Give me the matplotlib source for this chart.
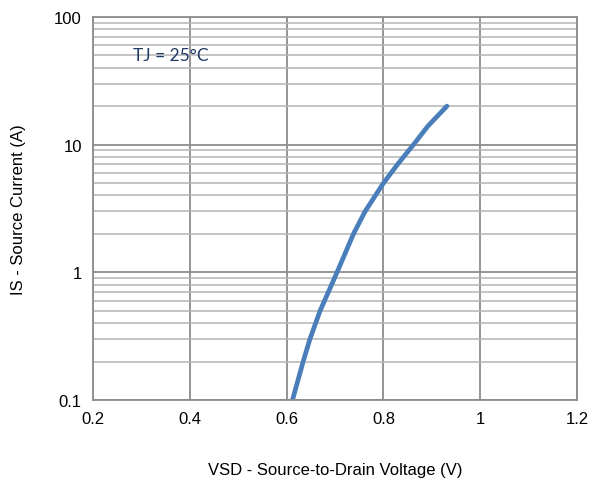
import numpy as np
import matplotlib
matplotlib.use("Agg")
import matplotlib.pyplot as plt
from matplotlib.ticker import FixedLocator, NullFormatter

# forward diode curve
vsd = [0.612, 0.634, 0.648, 0.669, 0.704, 0.738, 0.762, 0.800, 0.829, 0.862, 0.892, 0.931]
i_s = [0.1, 0.2, 0.3, 0.5, 1.0, 2.0, 3.0, 5.0, 7.0, 10.0, 14.0, 20.0]

xticks = [0.2, 0.4, 0.6, 0.8, 1.0, 1.2]
xticklabels = ["0.2", "0.4", "0.6", "0.8", "1", "1.2"]
yticks = [0.1, 1, 10, 100]
yticklabels = ["0.1", "1", "10", "100"]

plt.rcParams['font.family'] = ['Liberation Sans', 'DejaVu Sans']

fig = plt.figure(figsize=(5.92, 4.81), dpi=100)
ax = fig.add_axes([0.157, 0.166, 0.818, 0.797])

ax.set_yscale('log')
ax.set_xlim(0.2, 1.2)
ax.set_ylim(0.1, 100)

ax.set_xticks(xticks)
ax.set_xticklabels(xticklabels)
ax.set_yticks(yticks)
ax.set_yticklabels(yticklabels)
minors = [m * 10.0**d for d in (-1, 0, 1) for m in range(2, 10)]
ax.yaxis.set_minor_locator(FixedLocator(minors))
ax.yaxis.set_minor_formatter(NullFormatter())

ax.grid(True, which='major', color='#8c8c8c', linewidth=1.3)
ax.grid(True, which='minor', axis='y', color='#b4b4b4', linewidth=1.1)
ax.set_axisbelow(True)
ax.tick_params(which='both', length=0, labelsize=12, pad=8)

for s in ax.spines.values():
    s.set_color('#8c8c8c')
    s.set_linewidth(1.3)

ax.plot(vsd, i_s, color='#4a7ebb', linewidth=3.4, solid_capstyle='round')

ax.text(0.283, 50, "TJ = 25°C", fontsize=12.5, color='#1f3864',
        family=['Lato', 'DejaVu Sans'], va='center')

ax.set_xlabel("VSD - Source-to-Drain Voltage (V)", fontsize=12, labelpad=26)
ax.set_ylabel("IS - Source Current (A)", fontsize=12, labelpad=20)

fig.savefig("out.png", dpi=100)
